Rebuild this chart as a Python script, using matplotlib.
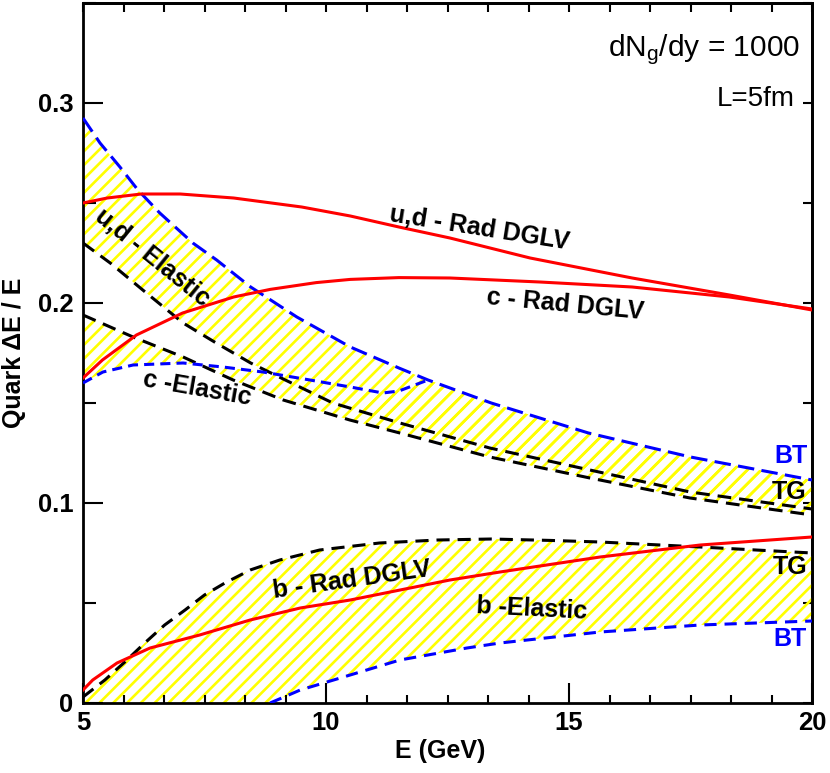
import numpy as np
import matplotlib
matplotlib.use("Agg")
import matplotlib.pyplot as plt
from matplotlib.ticker import MultipleLocator, AutoMinorLocator, FuncFormatter

DPI = 83
S = 100.0 / DPI  # sizes below are tuned in "points at 100 dpi"

plt.rcParams['font.family'] = ['Liberation Sans', 'DejaVu Sans']
plt.rcParams['mathtext.fontset'] = 'custom'
plt.rcParams['mathtext.rm'] = 'Liberation Sans'
plt.rcParams['mathtext.it'] = 'Liberation Sans:italic'
plt.rcParams['mathtext.bf'] = 'Liberation Sans:bold'
plt.rcParams['hatch.linewidth'] = 2.3

# ---------------- data ----------------
# u,d radiative (DGLV)
ud_rad_E = [5, 5.5, 6.2, 7.0, 8.1, 9.5, 10.5, 11.5, 12.55, 14.2, 16.3, 18.3, 20]
ud_rad = [0.250, 0.2525, 0.2545, 0.2545, 0.2525, 0.248, 0.2435, 0.238, 0.2325, 0.2225, 0.2125, 0.204, 0.1965]

# c radiative (DGLV)
c_rad_E = [5, 5.4, 6.1, 7.05, 8.1, 8.85, 9.8, 10.5, 11.5, 12.55, 14.4, 16.3, 18.3, 20]
c_rad = [0.1625, 0.1715, 0.184, 0.195, 0.203, 0.2068, 0.2102, 0.2118, 0.2127, 0.2125, 0.2105, 0.208, 0.203, 0.197]

# u,d elastic: BT (upper) and TG (lower)
ud_bt_E = [5, 5.35, 5.76, 6.13, 6.58, 7.26, 7.75, 8.45, 9.4, 10.5, 11.5, 12.1, 13.4, 15.4, 17.5, 20]
ud_bt = [0.2925, 0.280, 0.268, 0.2565, 0.245, 0.230, 0.2215, 0.208, 0.193, 0.178, 0.1675, 0.1615, 0.150, 0.135, 0.123, 0.1115]
ud_tg_E = [5, 5.56, 6.23, 7.06, 7.74, 8.45, 9.12, 10.14, 11.52, 13.37, 15.43, 17.49, 20]
ud_tg = [0.230, 0.220, 0.2065, 0.190, 0.180, 0.170, 0.162, 0.150, 0.140, 0.1275, 0.1165, 0.1055, 0.0970]

# c elastic: TG and BT (BT joins the u,d BT curve above ~12 GeV)
c_tg_E = [5, 6.03, 7.06, 8.09, 9.12, 10.49, 11.52, 13.37, 15.43, 17.49, 20]
c_tg = [0.194, 0.183, 0.173, 0.1615, 0.1515, 0.1415, 0.135, 0.123, 0.1125, 0.1025, 0.094]
c_bt_E = [5, 5.41, 6.03, 7.06, 7.88, 8.7, 9.67, 10.5, 11.17, 11.5, 12.1]
c_bt = [0.160, 0.1655, 0.169, 0.170, 0.168, 0.1655, 0.1615, 0.158, 0.155, 0.156, 0.1615]

# b radiative (DGLV)
b_rad_E = [5, 5.2, 5.7, 6.38, 7.4, 8.44, 9.47, 10.5, 12.55, 13.58, 15.64, 17.7, 20]
b_rad = [0.0065, 0.0115, 0.020, 0.0275, 0.034, 0.0415, 0.0475, 0.0515, 0.0615, 0.0655, 0.073, 0.079, 0.083]

# b elastic: TG (upper) and BT (lower)
b_tg_E = [5, 5.45, 5.86, 6.27, 6.68, 7.1, 7.5, 7.92, 8.44, 9.05, 9.87, 11.1, 12.3, 13.4, 14.6, 15.64, 17.7, 20]
b_tg = [0.003, 0.0115, 0.0205, 0.030, 0.039, 0.0465, 0.054, 0.060, 0.0665, 0.0715, 0.0765, 0.080, 0.0815, 0.082, 0.0813, 0.0805, 0.078, 0.075]
b_bt_E = [8.85, 9.47, 10.02, 11.52, 12.9, 13.58, 15.64, 17.7, 20]
b_bt = [0.0, 0.0065, 0.0105, 0.0215, 0.0275, 0.030, 0.0355, 0.039, 0.041]

x_ticks = [5, 10, 15, 20]
y_ticks = [0, 0.1, 0.2, 0.3]

# ---------------- figure ----------------
fig = plt.figure(figsize=(830 / DPI, 773 / DPI), dpi=DPI)
ax = fig.add_axes([83 / 830, 70 / 773, 729 / 830, 700 / 773])

YEL = '#ffff00'
RED = '#ff0000'
BLUE = '#0000ff'
LW = 2.2 * S

def band(xs_top, ys_top, xs_bot, ys_bot):
    px = list(xs_top) + list(xs_bot)[::-1]
    py = list(ys_top) + list(ys_bot)[::-1]
    ax.fill(px, py, facecolor='none', edgecolor=YEL, hatch='//', linewidth=0, zorder=1)

# u,d band
band(ud_bt_E, ud_bt, ud_tg_E, ud_tg)
# c band (BT continues along u,d BT beyond its junction)
c_bt_full_E = c_bt_E + [e for e in ud_bt_E if e > c_bt_E[-1]]
c_bt_full = c_bt + [v for e, v in zip(ud_bt_E, ud_bt) if e > c_bt_E[-1]]
band(c_tg_E, c_tg, c_bt_full_E, c_bt_full)
# b band (lower edge is the axis until BT enters)
band(b_tg_E, b_tg, [b_tg_E[0]] + b_bt_E, [0.0] + b_bt)

# dashed elastic curves
ax.plot(ud_bt_E, ud_bt, color=BLUE, lw=LW, dashes=(5.4, 2.4), zorder=3)
ax.plot(ud_tg_E, ud_tg, color='black', lw=LW, dashes=(4.5, 2.6), zorder=3)
ax.plot(c_tg_E, c_tg, color='black', lw=LW, dashes=(4.5, 2.6), zorder=3)
ax.plot(c_bt_E, c_bt, color=BLUE, lw=LW, dashes=(3.3, 2.0), zorder=3)
ax.plot(b_tg_E, b_tg, color='black', lw=LW, dashes=(4.3, 2.6), zorder=3)
ax.plot(b_bt_E, b_bt, color=BLUE, lw=LW, dashes=(4.0, 2.6), zorder=3)

# radiative curves
ax.plot(ud_rad_E, ud_rad, color=RED, lw=LW, zorder=4)
ax.plot(c_rad_E, c_rad, color=RED, lw=LW, zorder=4)
ax.plot(b_rad_E, b_rad, color=RED, lw=LW, zorder=4)

ax.set_xlim(5, 20)
ax.set_ylim(0, 0.35)

# ticks
ax.set_xticks(x_ticks)
ax.set_yticks(y_ticks)
ax.xaxis.set_minor_locator(AutoMinorLocator(6))
ax.yaxis.set_minor_locator(AutoMinorLocator(2))
ax.xaxis.set_major_formatter(FuncFormatter(lambda v, p: '%g' % v))
ax.yaxis.set_major_formatter(FuncFormatter(lambda v, p: '0' if abs(v) < 1e-9 else '%g' % v))
ax.tick_params(which='both', direction='in', width=1.5 * S, top=False, right=False)
ax.tick_params(axis='x', which='major', length=14.4 * S, pad=6 * S)
ax.tick_params(axis='x', which='minor', length=5.8 * S)
ax.tick_params(axis='y', which='major', length=14.4 * S, pad=7 * S)
ax.tick_params(axis='y', which='minor', length=9.4 * S)
for lab in ax.get_xticklabels() + ax.get_yticklabels():
    lab.set_fontsize(18.5 * S)
    lab.set_fontweight('bold')

secx = ax.secondary_xaxis('top')
secx.xaxis.set_major_locator(MultipleLocator(5))
secx.xaxis.set_minor_locator(AutoMinorLocator(6))
secx.tick_params(which='both', direction='in', length=6.8 * S, width=1.5 * S, labeltop=False)
secy = ax.secondary_yaxis('right')
secy.yaxis.set_major_locator(MultipleLocator(0.1))
secy.yaxis.set_minor_locator(AutoMinorLocator(2))
secy.tick_params(which='both', direction='in', length=6.5 * S, width=1.5 * S, labelright=False)

for sp in list(ax.spines.values()) + list(secx.spines.values()) + list(secy.spines.values()):
    sp.set_linewidth(2.0 * S)

ax.set_xlabel('E (GeV)', fontsize=18 * S, fontweight='bold')
ax.xaxis.label.set_va('center')
ax.xaxis.set_label_coords(0.49, -(751 - 703) / 700)
ax.set_ylabel('Quark ΔE / E', fontsize=18 * S, fontweight='bold')
ax.yaxis.label.set_va('center')
ax.yaxis.set_label_coords(-(83 - 14) / 729, 0.5)

# annotations
tkw = dict(fontsize=18 * S, fontweight='bold', ha='center', va='center', rotation_mode='anchor', zorder=5)
ax.text(13.15, 0.2375, 'u,d - Rad DGLV', rotation=-9, **tkw)
ax.text(14.92, 0.199, 'c - Rad DGLV', rotation=-5.5, **tkw)
ax.text(6.42, 0.2225, 'u,d - Elastic', rotation=-39, **tkw)
ax.text(7.35, 0.157, 'c -Elastic', rotation=-10, **tkw)
ax.text(10.53, 0.0615, 'b - Rad DGLV', rotation=8, **tkw)
ax.text(14.24, 0.047, 'b -Elastic', rotation=-3, **tkw)

lkw = dict(fontsize=18 * S, fontweight='bold', ha='center', va='center', zorder=5)
ax.text(19.57, 0.1235, 'BT', color=BLUE, **lkw)
ax.text(19.53, 0.1055, 'TG', color='black', **lkw)
ax.text(19.55, 0.068, 'TG', color='black', **lkw)
ax.text(19.55, 0.032, 'BT', color=BLUE, **lkw)

ax.text(19.75, 0.3235, r'dN$_\mathrm{g}$/dy = 1000', fontsize=21.5 * S, ha='right', va='baseline')
ax.text(19.65, 0.2985, 'L=5fm', fontsize=20 * S, ha='right', va='baseline')

fig.savefig('out.png', dpi=DPI)
